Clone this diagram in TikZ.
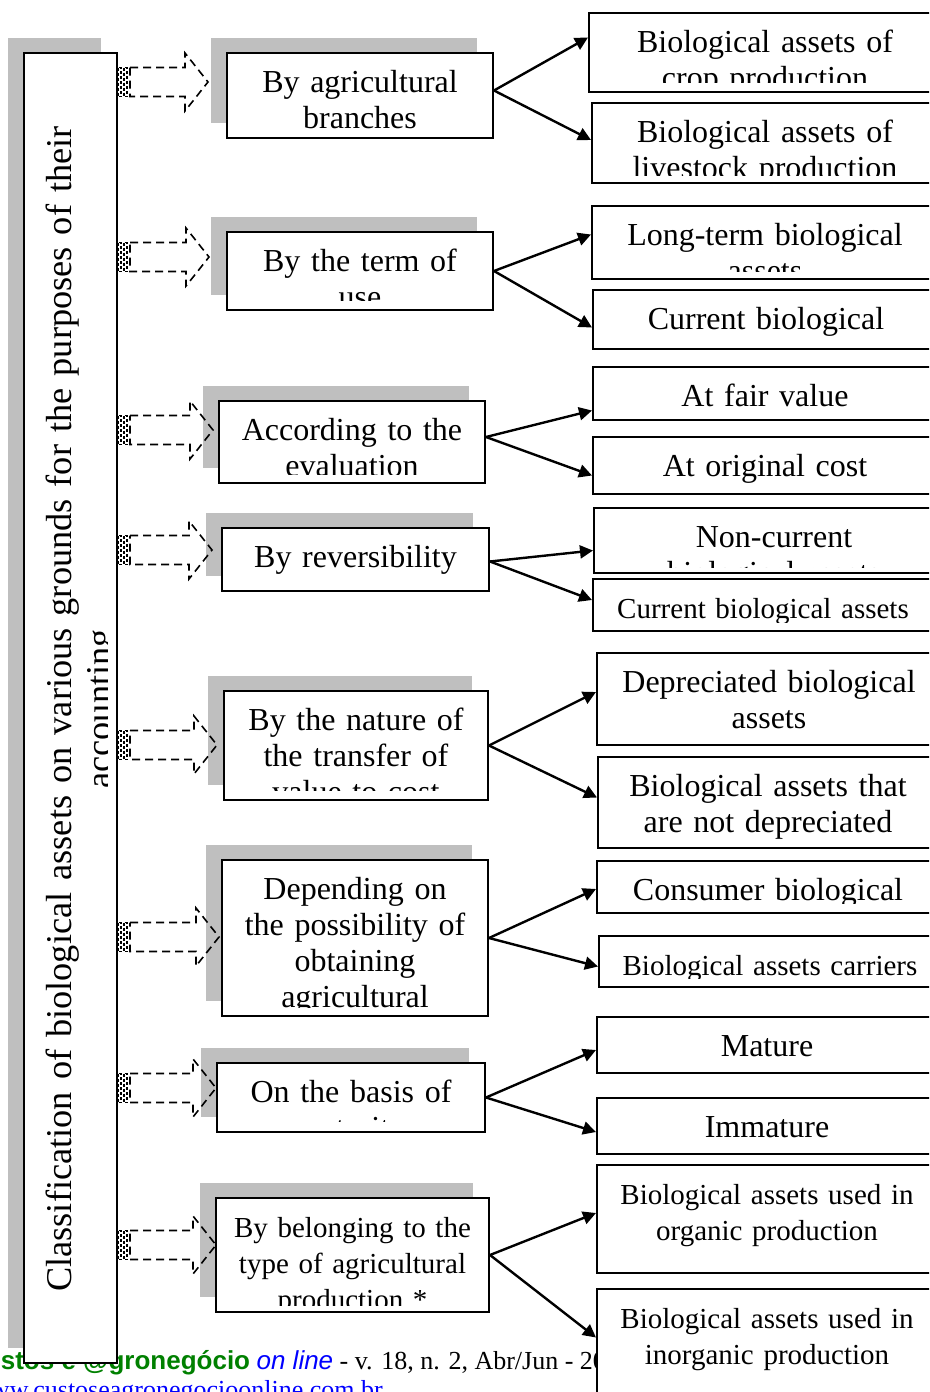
\documentclass[tikz,border=0pt]{standalone}
\usepackage{fontspec}
\setmainfont{Liberation Serif}
\setsansfont{Liberation Sans}
\usetikzlibrary{arrows.meta,calc,fit,shadows}
\definecolor{shade}{RGB}{191,191,191}
\definecolor{jgreen}{RGB}{0,128,0}
\definecolor{jblue}{RGB}{0,0,255}
\newcommand{\txtA}{\fontsize{32}{36}\selectfont}
\newcommand{\txtB}{\fontsize{29}{36}\selectfont}
\tikzset{
  % Rahmen
  frame/.style={draw, line width=2pt, fill=white, inner sep=0pt},
  shaded/.style={frame, drop shadow={shadow xshift=-16pt, shadow yshift=15pt, fill=shade, opacity=1}},
  boxtext/.style={anchor=base, text width=330pt, align=center, inner sep=0pt},
  % Pfeile
  link/.style={line width=2.4pt, -{Triangle[length=13pt,width=13pt]}},
  hollow/.style={line width=1.6pt, dash pattern=on 8pt off 5pt},
  stripe/.style={line width=1.2pt, dash pattern=on 3pt off 2pt},
}
% Kasten mit abgeschnittenem Text: Stil, Name, x1, y1, x2, y2, Rand unten, Schrift, Text
\newcommand{\textbox}[9]{%
  \node[#1, fit={(#3,#4) (#5,#6)}] (#2) {};
  \begin{scope}
    \clip (#3,#4) rectangle (#5,#6-#7);
    \node[boxtext, font=#8] at ($(#2.north)+(0,40)$) {#9};
  \end{scope}}

\begin{document}
\begin{tikzpicture}[x=1pt, y=-1pt]
  \useasboundingbox (0,0) rectangle (929,1392);
  \clip (0,0) rectangle (929,1392);
  % ---------- Fusszeile ----------
  \node[anchor=base west, inner sep=0pt, font=\fontsize{26}{30}\selectfont] (foot) at (-34,1369)
    {\textcolor{jgreen}{\sffamily\bfseries Custos e @gronegócio} \textcolor{jblue}{\sffamily\itshape on line} - v. 18, n. 2, Abr/Jun - 2022};
  \node[anchor=base east, inner sep=0pt, font=\fontsize{26}{30}\selectfont, text=jblue] (site) at (383,1398)
    {www.custoseagronegocioonline.com.br};
  % ---------- linke Spalte ----------
  \node[shaded, fit={(24,53) (117,1363)}] (cls) {};
  \begin{scope}
    \clip (24,53) rectangle (107,1363);
    \node[boxtext, text width=1300pt, rotate=90, font=\fontsize{36.3}{40}\selectfont] at (71,709)
      {Classification of biological assets on various grounds for the purposes of their\\ accounting};
  \end{scope}
  % ---------- Merkmale ----------
  \textbox{shaded}{m1}{227}{53}{493}{138}{9}{\txtA}{By agricultural\\ branches}
  \textbox{shaded}{m2}{227}{232}{493}{310}{10}{\txtA}{By the term of\\ use}
  \textbox{shaded}{m3}{219}{401}{485}{483}{9}{\txtA}{According to the\\ evaluation}
  \textbox{shaded}{m4}{222}{528}{489}{591}{9}{\txtA}{By reversibility}
  \textbox{shaded}{m5}{224}{691}{488}{800}{10}{\txtA}{By the nature of\\ the transfer of\\ value to cost}
  \textbox{shaded}{m6}{222}{860}{488}{1016}{9}{\txtA}{Depending on\\ the possibility of\\ obtaining\\ agricultural}
  \textbox{shaded}{m7}{217}{1063}{485}{1132}{11}{\txtA}{On the basis of\\ maturity}
  \textbox{shaded}{m8}{216}{1198}{489}{1312}{7}{\txtB}{By belonging to the\\ type of agricultural\\ production *}
  % ---------- Gruppen ----------
  \textbox{frame}{r1}{589}{13}{941}{92}{10}{\txtA}{Biological assets of\\ crop production}
  \textbox{frame}{r2}{592}{103}{938}{183}{8}{\txtA}{Biological assets of\\ livestock production}
  \textbox{frame}{r3}{592}{206}{938}{279}{8}{\txtA}{Long-term biological\\ assets}
  \textbox{frame}{r4}{593}{290}{939}{349}{9}{\txtA}{Current biological}
  \textbox{frame}{r5}{593}{367}{937}{420}{9}{\txtA}{At fair value}
  \textbox{frame}{r6}{593}{437}{937}{494}{9}{\txtA}{At original cost}
  \textbox{frame}{r7}{594}{508}{954}{573}{6}{\txtA}{Non-current\\ biological assets}
  \textbox{frame}{r8}{593}{579}{933}{631}{9}{\txtB}{Current biological assets}
  \textbox{frame}{r9}{597}{653}{941}{745}{9}{\txtA}{Depreciated biological\\ assets}
  \textbox{frame}{r10}{598}{757}{938}{848}{9}{\txtA}{Biological assets that\\ are not depreciated}
  \textbox{frame}{r11}{597}{861}{939}{913}{10}{\txtA}{Consumer biological}
  \textbox{frame}{r12}{599}{936}{941}{987}{9}{\txtB}{Biological assets carriers}
  \textbox{frame}{r13}{597}{1017}{937}{1073}{9}{\txtA}{Mature}
  \textbox{frame}{r14}{597}{1098}{937}{1154}{9}{\txtA}{Immature}
  \textbox{frame}{r15}{597}{1165}{937}{1273}{9}{\txtB}{Biological assets used in\\ organic production}
  \textbox{frame}{r16}{597}{1289}{937}{1400}{9}{\txtB}{Biological assets used in\\ inorganic production}
  % ---------- Verbindungen ----------
  \foreach \s/\a/\t/\b in {m1/5/r1/15, m1/5/r2/3, m2/0/r3/8, m2/0/r4/-8, m3/5/r5/-17, m3/5/r6/-10,
      m4/-2/r7/-10, m4/-2/r8/5, m5/0/r9/7, m5/0/r10/5, m6/0/r11/-2, m6/0/r12/-5,
      m7/0/r13/-5, m7/0/r14/-6, m8/0/r15/6, m8/0/r16/7}
    \draw[link] ([yshift=\a pt]\s.east) -- ([yshift=\b pt]\t.west);
  \foreach \cy/\tip in {82/208, 257/209, 430/213, 550/212, 745/217, 937/219, 1088/216, 1245/216} {
    \coordinate (tail) at (cls.east |- 0,\cy);
    \draw[stripe] ($(tail)+(0,-14.5)$) rectangle ($(tail)+(3,14.5)$)
      ($(tail)+(6,-14.5)$) rectangle ($(tail)+(9,14.5)$);
    \draw[hollow] ($(tail)+(12,-14.5)$) -- (\tip-23,\cy-14.5) -- (\tip-23,\cy-29) -- (\tip,\cy)
      -- (\tip-23,\cy+29) -- (\tip-23,\cy+14.5) -- ($(tail)+(12,14.5)$) -- cycle;
  }
\end{tikzpicture}
\end{document}
